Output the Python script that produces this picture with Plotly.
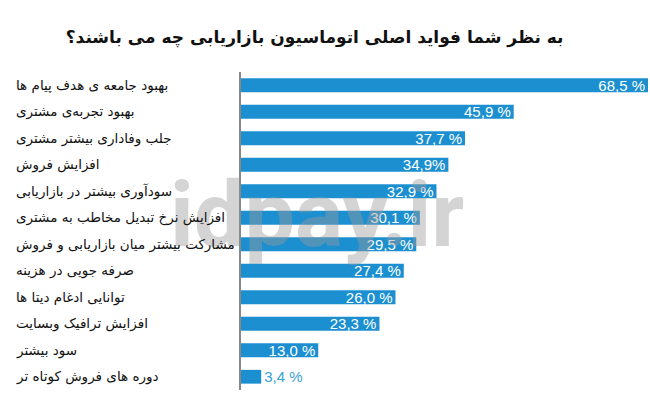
import plotly.graph_objects as go

categories = [
    "بهبود جامعه ی هدف پیام ها",
    "بهبود تجربه‌ی مشتری",
    "جلب وفاداری بیشتر مشتری",
    "افزایش فروش",
    "سودآوری بیشتر در بازاریابی",
    "افزایش نرخ تبدیل مخاطب به مشتری",
    "مشارکت بیشتر میان بازاریابی و فروش",
    "صرفه جویی در هزینه",
    "توانایی ادغام دیتا ها",
    "افزایش ترافیک وبسایت",
    "سود بیشتر",
    "دوره های فروش کوتاه تر",
]
values = [68.5, 45.9, 37.7, 34.9, 32.9, 30.1, 29.5, 27.4, 26.0, 23.3, 13.0, 3.4]
value_labels = ["68,5 %", "45,9 %", "37,7 %", "34,9%", "32,9 %", "30,1 %",
                "29,5 %", "27,4 %", "26,0 %", "23,3 %", "13,0 %", "3,4 %"]
title = "به نظر شما فواید اصلی اتوماسیون بازاریابی چه می باشند؟"
watermark = "idpay.ir"

bar_color = "#1c8fd0"
positions = ["inside" if v > 8 else "outside" for v in values]
text_colors = ["white" if v > 8 else "#3a9fd6" for v in values]

fig = go.Figure(go.Bar(
    x=values, y=categories, orientation="h",
    marker=dict(color=bar_color, line=dict(width=0)),
    text=value_labels, textposition=positions,
    insidetextanchor="end",
    textfont=dict(color=text_colors, size=15, family="Liberation Sans, Arial"),
    outsidetextfont=dict(color="#3a9fd6", size=15, family="Liberation Sans, Arial"),
    cliponaxis=False,
    width=0.52,
))

fig.add_annotation(x=0.187, xref="paper", xanchor="center", y=0.55, yref="paper", yanchor="middle",
                   text="<b>" + watermark + "</b>",
                   showarrow=False, font=dict(family="Roboto", size=90, color="#9a9a9a"),
                   opacity=0.42)

for cat in categories:
    fig.add_annotation(x=-0.558, xref="paper", xanchor="left", y=cat, yref="y",
                       text=cat, showarrow=False,
                       font=dict(family="DejaVu Sans", size=13.5, color="#111111"))

fig.update_layout(
    width=650, height=407,
    margin=dict(l=241, r=2, t=72, b=17),
    paper_bgcolor="white", plot_bgcolor="white",
    showlegend=False,
    title=dict(text="<b>" + title + "</b>", x=0.484, xanchor="center", y=0.91, yanchor="middle",
               font=dict(family="DejaVu Sans", size=17, color="#111111")),
    xaxis=dict(range=[0, 68.5], visible=False, fixedrange=True),
    yaxis=dict(autorange="reversed", showticklabels=False, showgrid=False, zeroline=False,
               showline=True, linecolor="#888888", linewidth=2, ticks=""),
    uniformtext=dict(minsize=15, mode="show"),
)

fig.write_html("out.html")
